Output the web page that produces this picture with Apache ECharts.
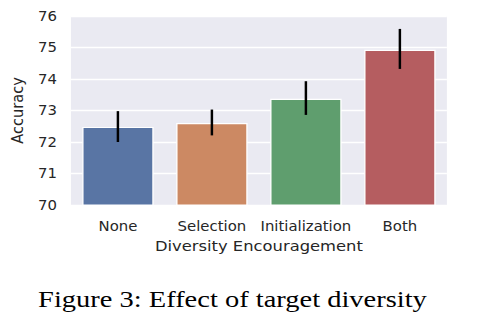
<!DOCTYPE html>
<html><head><meta charset="utf-8">
<script src="https://cdn.jsdelivr.net/npm/echarts@6/dist/echarts.min.js"></script>
<style>html,body{margin:0;padding:0;background:#fff;overflow:hidden}
#c{width:426px;height:326px;transform:scaleX(1.12);transform-origin:0 0}</style>
</head><body><div id="c"></div>
<script>
const categories = ['None', 'Selection', 'Initialization', 'Both'];
const accuracy = [72.48, 72.60, 73.37, 74.93];
const errLow = [72.00, 72.21, 72.86, 74.32];
const errHigh = [72.98, 73.03, 73.93, 75.59];
const barColors = ['#5975A4', '#CC8963', '#5F9E6E', '#B55D60'];
const yTicks = [70, 71, 72, 73, 74, 75, 76];

const chart = echarts.init(document.getElementById('c'), null, {renderer: 'svg'});
const font = 'DejaVu Sans';
chart.setOption({
  animation: false,
  backgroundColor: '#fff',
  grid: {left: 59, top: 16, width: 340, height: 189, show: true, backgroundColor: '#EAEAF2', borderWidth: 0},
  xAxis: {
    type: 'category', data: categories,
    axisLine: {show: false}, axisTick: {show: false},
    axisLabel: {color: '#262626', fontFamily: font, fontSize: 13.3, margin: 15, interval: 0},
    name: 'Diversity Encouragement', nameLocation: 'middle', nameGap: 34,
    nameTextStyle: {color: '#262626', fontFamily: font, fontSize: 14.6}
  },
  yAxis: {
    type: 'value', min: yTicks[0], max: yTicks[yTicks.length - 1], interval: 1,
    axisLine: {show: false}, axisTick: {show: false},
    splitLine: {show: true, lineStyle: {color: '#fff', width: 1.3}},
    axisLabel: {color: '#262626', fontFamily: font, fontSize: 13.3, margin: 12.5},
    name: 'Accuracy', nameLocation: 'middle', nameGap: 34.5,
    nameTextStyle: {color: '#262626', fontFamily: font, fontSize: 14.6}
  },
  series: [
    {
      type: 'bar', barWidth: '76%',
      data: accuracy.map((v, i) => ({value: v, itemStyle: {color: barColors[i]}})),
      itemStyle: {borderColor: '#fff', borderWidth: 1.2}
    },
    {
      type: 'custom', z: 10,
      data: categories.map((c, i) => [i, errLow[i], errHigh[i]]),
      renderItem: function (params, api) {
        const lo = api.coord([api.value(0), api.value(1)]);
        const hi = api.coord([api.value(0), api.value(2)]);
        return {type: 'line', shape: {x1: lo[0], y1: lo[1], x2: hi[0], y2: hi[1]},
                style: {stroke: '#000', lineWidth: 2.2}};
      }
    }
  ],
  graphic: [{
    type: 'text', x: 34, y: 300, scaleX: 1.13,
    style: {text: 'Figure 3: Effect of target diversity', fontFamily: 'Liberation Serif', fontSize: 22.5,
            fill: '#000', align: 'left', verticalAlign: 'middle'}
  }]
});
</script></body></html>
